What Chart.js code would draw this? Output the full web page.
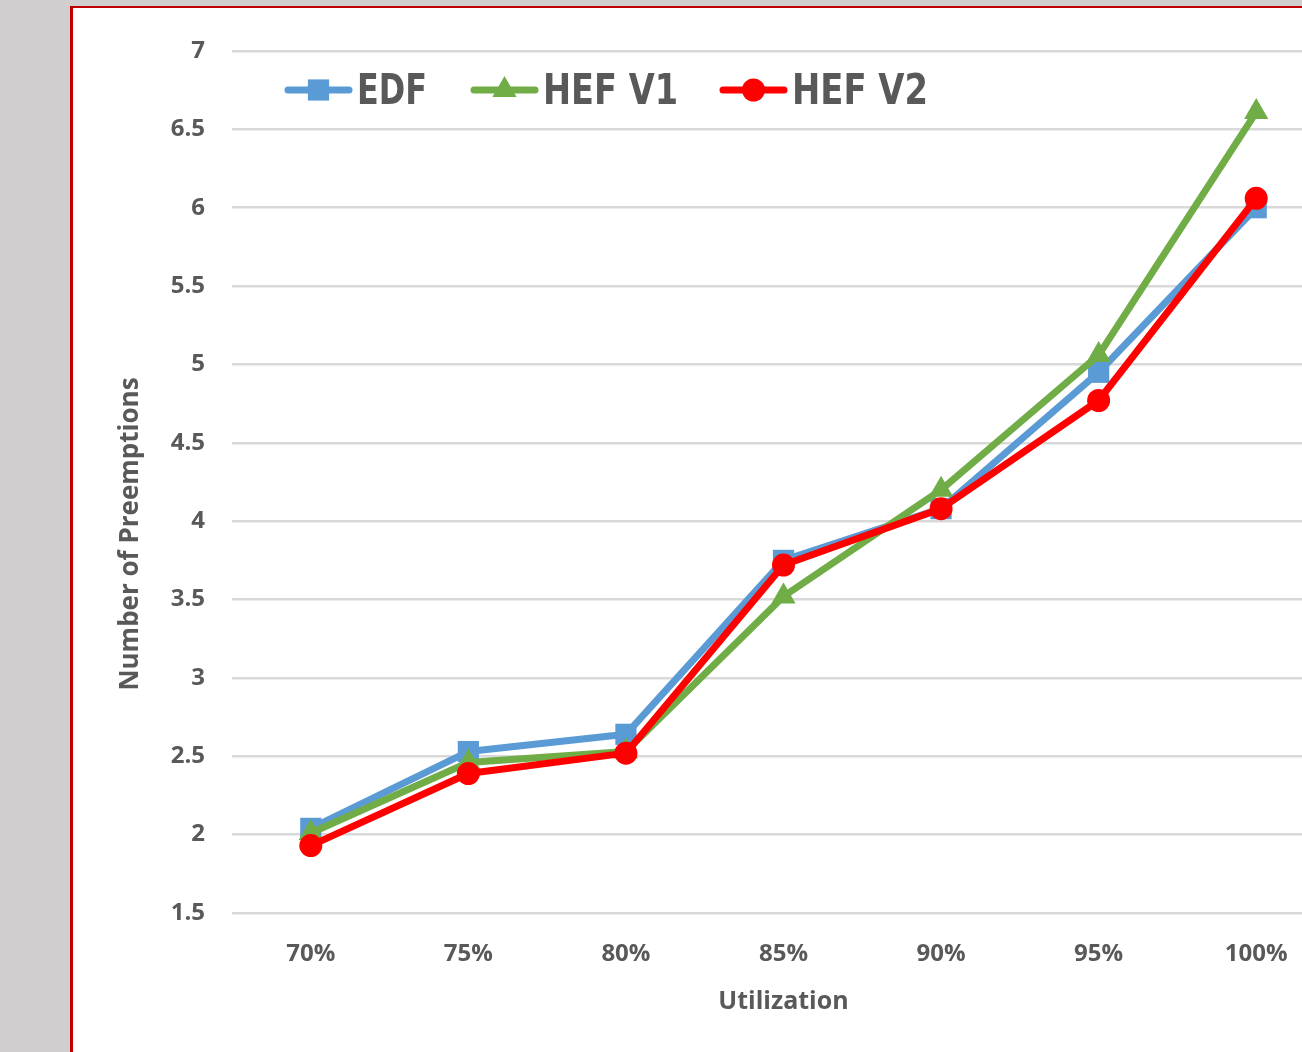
<!DOCTYPE html>
<html>
<head>
<meta charset="utf-8">
<script src="https://cdn.jsdelivr.net/npm/chart.js@4.4.1/dist/chart.umd.min.js"></script>
<style>
  html, body { margin: 0; padding: 0; width: 1302px; height: 1052px; overflow: hidden; background: #d0cece; }
  #panel { position: absolute; left: 70px; top: 6px; width: 1400px; height: 1200px; background: #ffffff;
           border-left: 3px solid #c00000; border-top: 2.5px solid #c00000; }
  #wrap { position: absolute; left: 0; top: 0; width: 1350px; height: 1052px; }
</style>
</head>
<body>
<div id="panel"></div>
<div id="wrap"><canvas id="chart" width="1350" height="1052"></canvas></div>
<script>
// Average number of preemptions per scheduler at each utilization level
const categories = ['70%', '75%', '80%', '85%', '90%', '95%', '100%'];
const edf   = [2.04, 2.53, 2.64, 3.75, 4.08, 4.95, 6.00];
const hefV1 = [2.01, 2.46, 2.53, 3.52, 4.20, 5.06, 6.61];
const hefV2 = [1.93, 2.39, 2.52, 3.72, 4.08, 4.77, 6.06];
const seriesNames = ['EDF', 'HEF V1', 'HEF V2'];
const yTitle = 'Number of Preemptions';
const xTitle = 'Utilization';

const GRAY = '#595959';
const FAMILY = "'Open Sans', 'DejaVu Sans', sans-serif";
const TICK_FONT = { family: FAMILY, size: 24, weight: 'bold' };

// Legend drawn inside the plot: line sample with its marker, then the name
const insideLegend = {
  id: 'insideLegend',
  afterDraw(chart) {
    const ctx = chart.ctx;
    const starts = [285, 471, 720];
    const textWidths = [70, 135, 136];
    const cy = 90;
    const sampleW = 67;
    ctx.save();
    chart.data.datasets.forEach((ds, i) => {
      const x0 = starts[i];
      ctx.lineCap = 'round';
      ctx.strokeStyle = ds.borderColor;
      ctx.lineWidth = ds.borderWidth;
      ctx.beginPath();
      ctx.moveTo(x0 + 3, cy);
      ctx.lineTo(x0 + sampleW - 3, cy);
      ctx.stroke();
      ctx.fillStyle = ds.pointBackgroundColor;
      ctx.strokeStyle = ds.pointBackgroundColor;
      Chart.helpers.drawPoint(ctx, {
        pointStyle: ds.pointStyle, radius: ds.pointRadius, borderWidth: 0, rotation: 0
      }, x0 + sampleW / 2, cy);
      ctx.fillStyle = GRAY;
      ctx.font = "bold 42px 'Liberation Sans Narrow', 'DejaVu Sans Condensed', sans-serif";
      ctx.textAlign = 'left';
      ctx.textBaseline = 'alphabetic';
      ctx.fillText(ds.label, x0 + sampleW + 5, 104, textWidths[i]);
    });
    ctx.restore();
  }
};

// Vertical axis title
const yAxisTitle = {
  id: 'yAxisTitle',
  afterDraw(chart) {
    const ctx = chart.ctx;
    ctx.save();
    ctx.translate(131, 534);
    ctx.rotate(-Math.PI / 2);
    ctx.font = "bold 26px " + FAMILY;
    ctx.fillStyle = GRAY;
    ctx.textAlign = 'center';
    ctx.textBaseline = 'middle';
    ctx.fillText(yTitle, 0, 0);
    ctx.restore();
  }
};

new Chart(document.getElementById('chart'), {
  type: 'line',
  data: {
    labels: categories,
    datasets: [
      { label: seriesNames[0], data: edf, order: 2,
        borderColor: '#5b9bd5', backgroundColor: '#5b9bd5', pointBackgroundColor: '#5b9bd5',
        borderWidth: 7, pointStyle: 'rect', pointRadius: 15, pointBorderWidth: 0 },
      { label: seriesNames[1], data: hefV1, order: 1,
        borderColor: '#70ad47', backgroundColor: '#70ad47', pointBackgroundColor: '#70ad47',
        borderWidth: 7, pointStyle: 'triangle', pointRadius: 14, pointBorderWidth: 0 },
      { label: seriesNames[2], data: hefV2, order: 0,
        borderColor: '#ff0000', backgroundColor: '#ff0000', pointBackgroundColor: '#ff0000',
        borderWidth: 7, pointStyle: 'circle', pointRadius: 11.5, pointBorderWidth: 0 }
    ]
  },
  options: {
    responsive: false,
    animation: false,
    devicePixelRatio: 1,
    clip: false,
    elements: { line: { tension: 0, borderJoinStyle: 'round', borderCapStyle: 'round' } },
    layout: { padding: { left: 100, top: 51, right: 4, bottom: 0 } },
    plugins: { legend: { display: false }, tooltip: { enabled: false } },
    scales: {
      x: {
        type: 'category',
        offset: true,
        afterFit: (s) => { s.height = 139; },
        grid: { display: false, drawTicks: false },
        border: { display: false },
        ticks: { color: GRAY, font: TICK_FONT, padding: 27, maxRotation: 0, autoSkip: false },
        title: { display: true, text: xTitle, color: GRAY, font: { family: FAMILY, size: 25, weight: 'bold' },
                 padding: { top: 0, bottom: 35 } }
      },
      y: {
        min: 1.5,
        max: 7,
        afterFit: (s) => { s.width = 132; },
        grid: { color: '#d9d9d9', lineWidth: 2.5, drawTicks: false },
        border: { display: false },
        ticks: { stepSize: 0.5, color: GRAY, font: TICK_FONT, padding: 27,
                 callback: (v) => String(v) }
      }
    }
  },
  plugins: [insideLegend, yAxisTitle]
});
</script>
</body>
</html>
